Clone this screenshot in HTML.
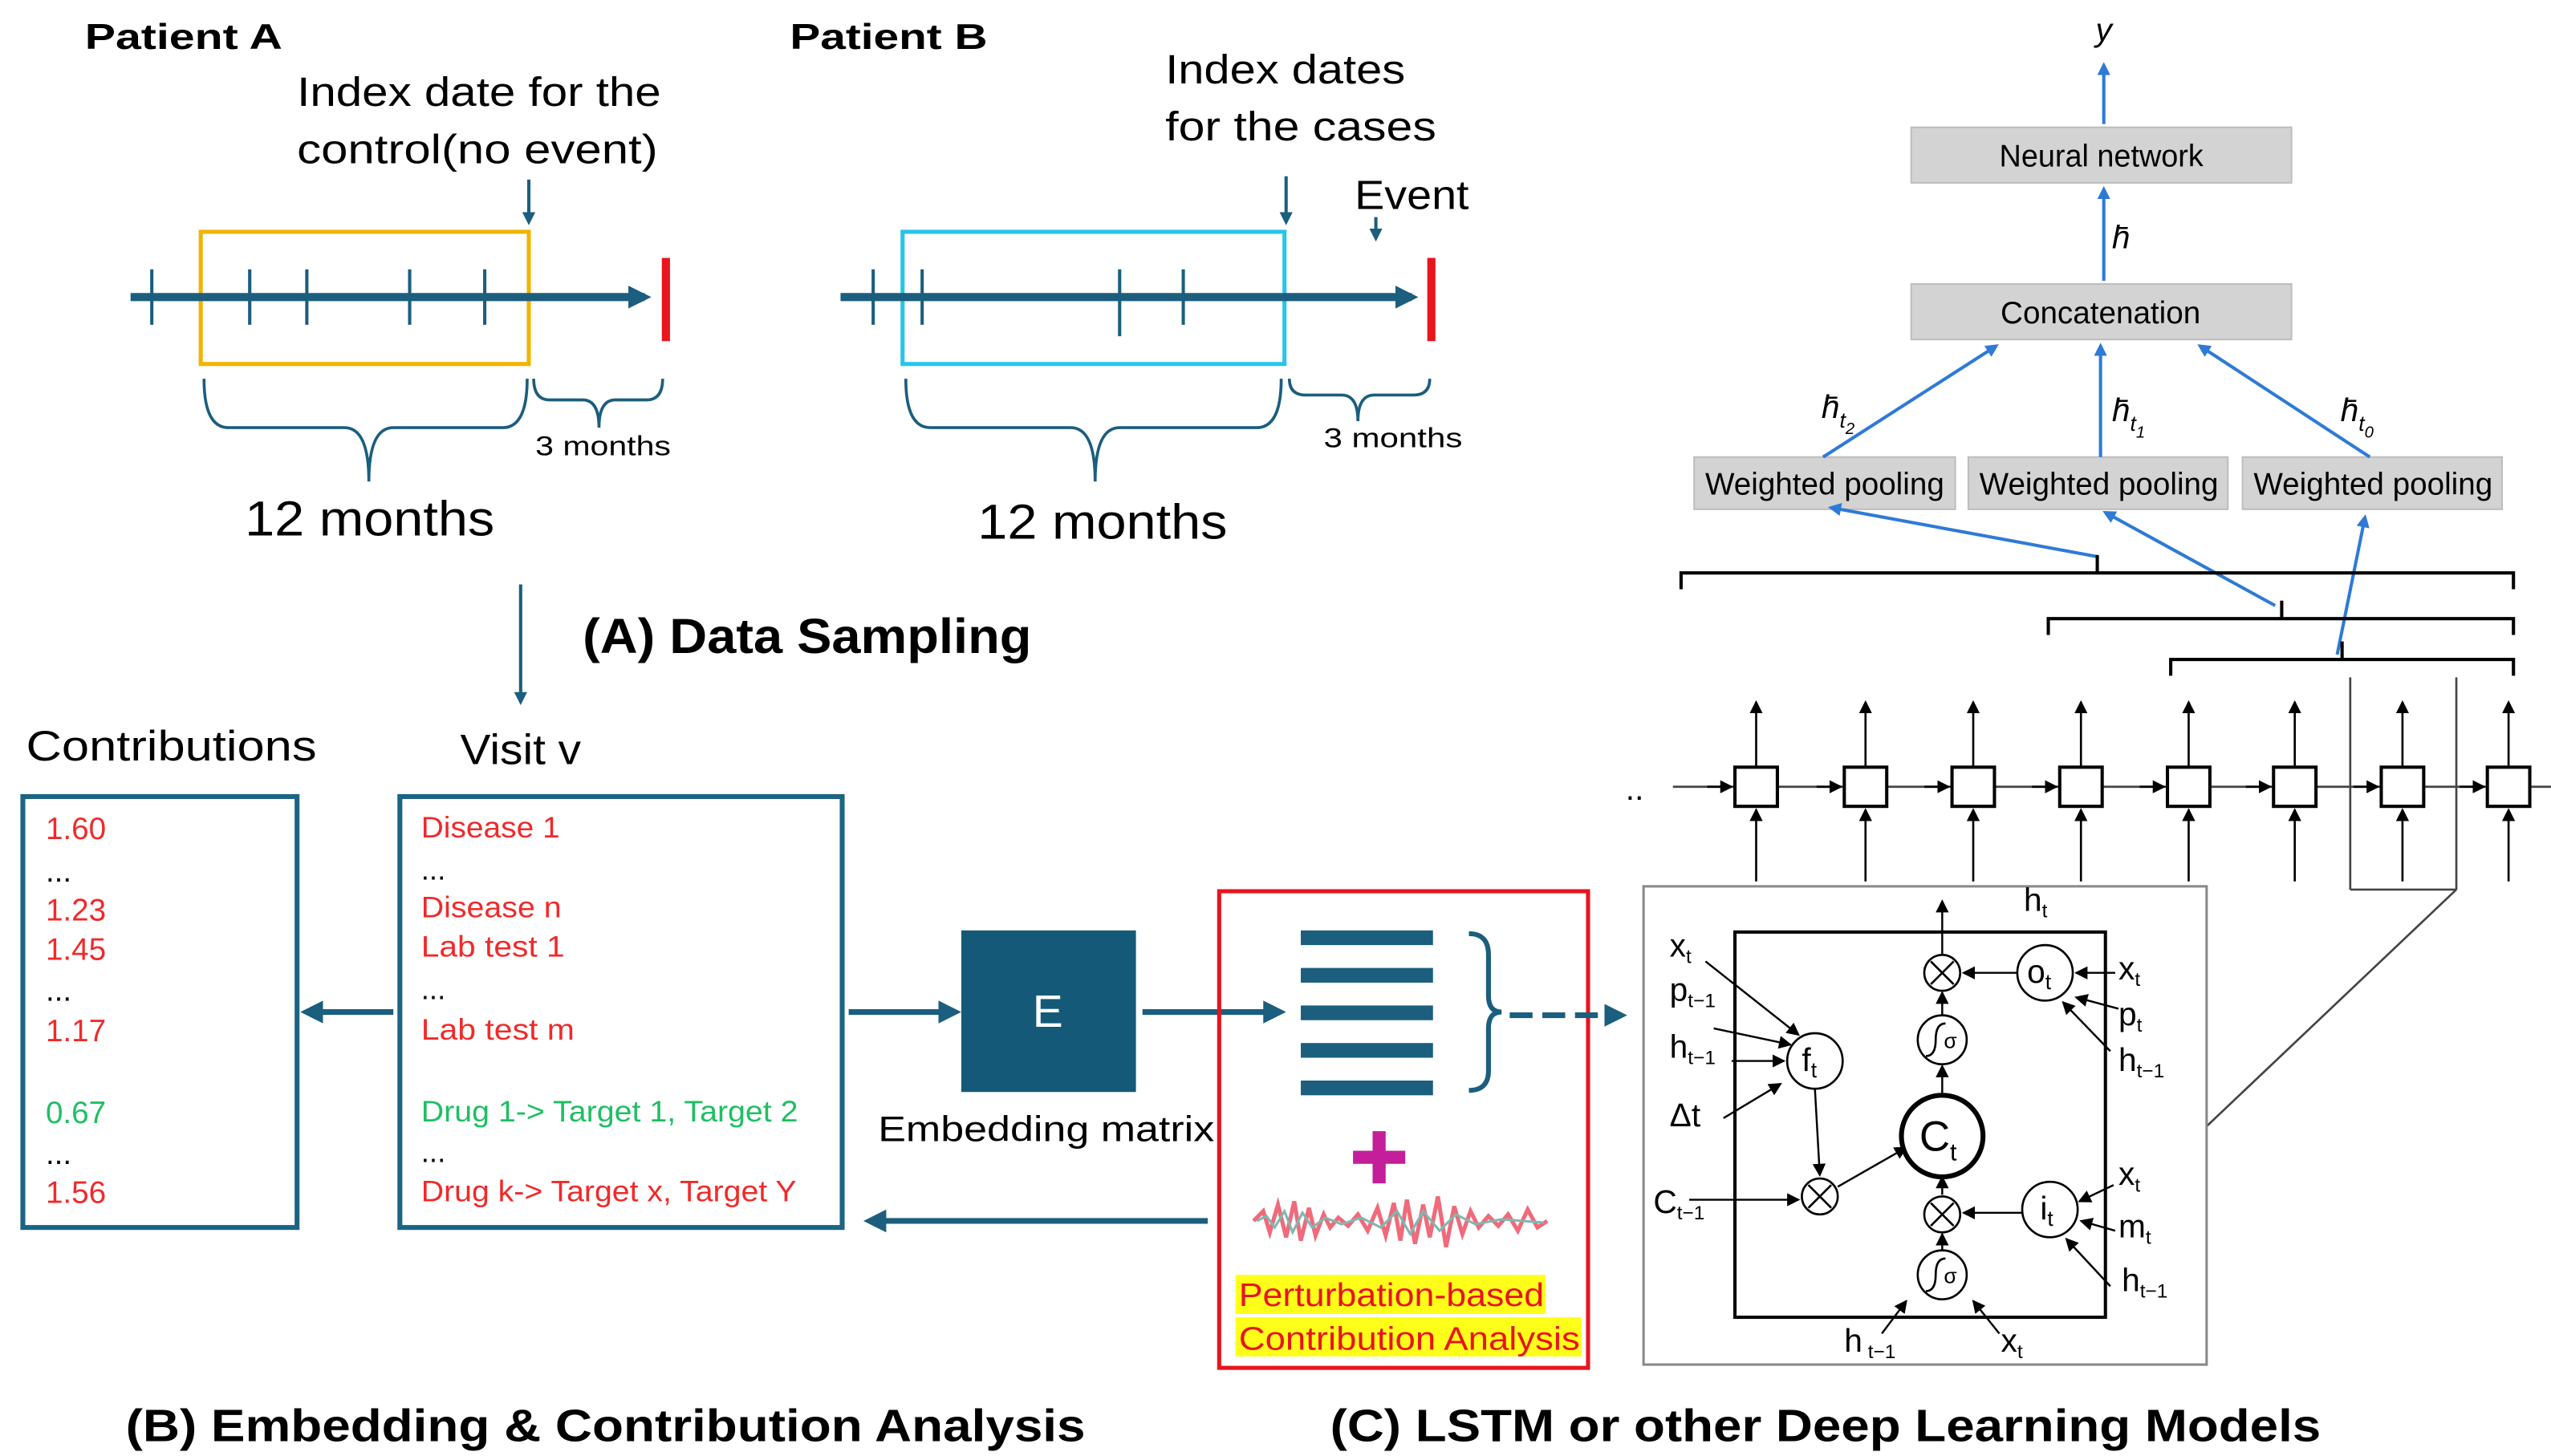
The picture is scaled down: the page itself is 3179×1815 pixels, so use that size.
<!DOCTYPE html>
<html><head><meta charset="utf-8"><style>
html,body{margin:0;padding:0;background:#fff;}
svg{display:block;}
text{font-family:"Liberation Sans",sans-serif;}
</style></head><body>
<svg width="3179" height="1815" viewBox="0 0 1563 892" preserveAspectRatio="none" xmlns="http://www.w3.org/2000/svg">
<defs>
<marker id="ab" markerWidth="8" markerHeight="8" refX="6" refY="4" orient="auto" markerUnits="userSpaceOnUse"><path d="M0,0 L8,4 L0,8z" fill="#1b5e7e"/></marker>
<marker id="abig" markerWidth="14" markerHeight="14" refX="10" refY="7" orient="auto" markerUnits="userSpaceOnUse"><path d="M0,0 L14,7 L0,14z" fill="#1b5e7e"/></marker>
<marker id="abl" markerWidth="8" markerHeight="8" refX="6" refY="4" orient="auto" markerUnits="userSpaceOnUse"><path d="M0,0 L8,4 L0,8z" fill="#2e7ad6"/></marker>
<marker id="ak" markerWidth="8" markerHeight="8" refX="7" refY="4" orient="auto" markerUnits="userSpaceOnUse"><path d="M0,0 L8,4 L0,8z" fill="#000"/></marker>
</defs>

<!-- Patient A -->
<text x="52" y="30" font-size="22" font-weight="bold" textLength="121" lengthAdjust="spacingAndGlyphs">Patient A</text>
<text x="182" y="65" font-size="25" textLength="223" lengthAdjust="spacingAndGlyphs">Index date for the</text>
<text x="182" y="100" font-size="25" textLength="221" lengthAdjust="spacingAndGlyphs">control(no event)</text>
<line x1="324" y1="110" x2="324" y2="136" stroke="#1b5e7e" stroke-width="2" marker-end="url(#ab)"/>
<rect x="123" y="142" width="201" height="81" fill="none" stroke="#f0b400" stroke-width="2.5"/>
<line x1="80" y1="182" x2="395" y2="182" stroke="#1b5e7e" stroke-width="5" marker-end="url(#abig)"/>
<g stroke="#1b5e7e" stroke-width="2"><line x1="93" y1="165" x2="93" y2="199"/><line x1="153" y1="165" x2="153" y2="199"/><line x1="188" y1="165" x2="188" y2="199"/><line x1="251" y1="165" x2="251" y2="199"/><line x1="297" y1="165" x2="297" y2="199"/></g>
<line x1="408" y1="158" x2="408" y2="209" stroke="#e8141e" stroke-width="5"/>
<g fill="none" stroke="#1b5e7e" stroke-width="1.8">
<path d="M125 232 Q125 262 140 262 L211 262 Q226 262 226 295 Q226 262 241 262 L308 262 Q323 262 323 232"/>
<path d="M327 232 Q327 245 337 245 L357 245 Q367 245 367 262 Q367 245 377 245 L396 245 Q406 245 406 232"/>
</g>
<text x="328" y="279" font-size="17" textLength="83" lengthAdjust="spacingAndGlyphs">3 months</text>
<text x="150" y="328" font-size="30" textLength="153" lengthAdjust="spacingAndGlyphs">12 months</text>

<!-- Patient B -->
<text x="484" y="30" font-size="22" font-weight="bold" textLength="121" lengthAdjust="spacingAndGlyphs">Patient B</text>
<text x="714" y="51" font-size="25" textLength="147" lengthAdjust="spacingAndGlyphs">Index dates</text>
<text x="714" y="86" font-size="25" textLength="166" lengthAdjust="spacingAndGlyphs">for the cases</text>
<text x="830" y="128" font-size="25" textLength="70" lengthAdjust="spacingAndGlyphs">Event</text>
<line x1="788" y1="108" x2="788" y2="136" stroke="#1b5e7e" stroke-width="2" marker-end="url(#ab)"/>
<line x1="843" y1="133" x2="843" y2="146" stroke="#1b5e7e" stroke-width="2" marker-end="url(#ab)"/>
<rect x="553" y="142" width="234" height="81" fill="none" stroke="#29c4e8" stroke-width="2.5"/>
<line x1="515" y1="182" x2="865" y2="182" stroke="#1b5e7e" stroke-width="5" marker-end="url(#abig)"/>
<g stroke="#1b5e7e" stroke-width="2"><line x1="535" y1="165" x2="535" y2="199"/><line x1="565" y1="165" x2="565" y2="199"/><line x1="686" y1="165" x2="686" y2="206"/><line x1="725" y1="165" x2="725" y2="199"/></g>
<line x1="877" y1="158" x2="877" y2="209" stroke="#e8141e" stroke-width="5"/>
<g fill="none" stroke="#1b5e7e" stroke-width="1.8">
<path d="M555 232 Q555 262 570 262 L656 262 Q671 262 671 295 Q671 262 686 262 L770 262 Q785 262 785 232"/>
<path d="M790 232 Q790 242 800 242 L822 242 Q832 242 832 258 Q832 242 842 242 L866 242 Q876 242 876 232"/>
</g>
<text x="811" y="274" font-size="17" textLength="85" lengthAdjust="spacingAndGlyphs">3 months</text>
<text x="599" y="330" font-size="30" textLength="153" lengthAdjust="spacingAndGlyphs">12 months</text>

<line x1="319" y1="358" x2="319" y2="430" stroke="#1b5e7e" stroke-width="2" marker-end="url(#ab)"/>
<text x="357" y="400" font-size="30" font-weight="bold" textLength="275" lengthAdjust="spacingAndGlyphs">(A) Data Sampling</text>

<!-- (B) -->
<text x="16" y="466" font-size="26" textLength="178" lengthAdjust="spacingAndGlyphs">Contributions</text>
<rect x="14" y="488" width="168" height="264" fill="none" stroke="#1b6484" stroke-width="3"/>
<g font-size="19" fill="#f02a2a">
<text x="28" y="514">1.60</text><text x="28" y="540" fill="#000">...</text><text x="28" y="564">1.23</text><text x="28" y="588">1.45</text><text x="28" y="613" fill="#000">...</text><text x="28" y="638">1.17</text><text x="28" y="688" fill="#1fbf63">0.67</text><text x="28" y="713" fill="#000">...</text><text x="28" y="737">1.56</text>
</g>
<text x="282" y="468" font-size="26" textLength="74" lengthAdjust="spacingAndGlyphs">Visit v</text>
<rect x="245" y="488" width="271" height="264" fill="none" stroke="#1b6484" stroke-width="3"/>
<g font-size="18" fill="#f02a2a">
<text x="258" y="513" textLength="85" lengthAdjust="spacingAndGlyphs">Disease 1</text><text x="258" y="539" fill="#000">...</text><text x="258" y="562" textLength="86" lengthAdjust="spacingAndGlyphs">Disease n</text><text x="258" y="586" textLength="88" lengthAdjust="spacingAndGlyphs">Lab test 1</text><text x="258" y="612" fill="#000">...</text><text x="258" y="637" textLength="94" lengthAdjust="spacingAndGlyphs">Lab test m</text><text x="258" y="687" fill="#1fbf63" textLength="231" lengthAdjust="spacingAndGlyphs">Drug 1-&gt; Target 1, Target 2</text><text x="258" y="712" fill="#000">...</text><text x="258" y="736" textLength="230" lengthAdjust="spacingAndGlyphs">Drug k-&gt; Target x, Target Y</text>
</g>
<line x1="241" y1="620" x2="188" y2="620" stroke="#1b5e7e" stroke-width="3.5" marker-end="url(#abig)"/>
<line x1="520" y1="620" x2="585" y2="620" stroke="#1b5e7e" stroke-width="3.5" marker-end="url(#abig)"/>
<rect x="589" y="570" width="107" height="99" fill="#145a78"/>
<text x="642" y="629" font-size="28" fill="#fff" text-anchor="middle">E</text>
<text x="538" y="699" font-size="22" textLength="206" lengthAdjust="spacingAndGlyphs">Embedding matrix</text>
<line x1="700" y1="620" x2="784" y2="620" stroke="#1b5e7e" stroke-width="3.5" marker-end="url(#abig)"/>
<rect x="747" y="546" width="226" height="292" fill="none" stroke="#e8141e" stroke-width="2.5"/>
<g fill="#1b5e7e"><rect x="797" y="570" width="81" height="9"/><rect x="797" y="593" width="81" height="9"/><rect x="797" y="616" width="81" height="9"/><rect x="797" y="639" width="81" height="9"/><rect x="797" y="662" width="81" height="9"/></g>
<path d="M900 572 Q912 572 912 585 L912 610 Q912 620 920 620 Q912 620 912 630 L912 656 Q912 668 900 668" fill="none" stroke="#1b5e7e" stroke-width="3"/>
<line x1="925" y1="622" x2="993" y2="622" stroke="#1b5e7e" stroke-width="3.5" stroke-dasharray="14,6" marker-end="url(#abig)"/>
<g fill="#c41e9a"><rect x="841" y="693" width="8" height="32"/><rect x="829" y="705" width="32" height="8"/></g>
<path d="M768 748 L774 742 L778 755 L783 738 L788 758 L793 736 L797 760 L802 740 L806 757 L811 744 L815 752 L820 746 L826 751 L832 744 L838 754 L844 740 L849 757 L854 737 L858 760 L862 735 L867 762 L872 738 L876 758 L881 733 L886 764 L891 739 L896 756 L901 742 L906 752 L912 745 L918 751 L924 744 L930 754 L936 741 L942 752 L948 748" fill="none" stroke="#f06a7a" stroke-width="2.5"/>
<path d="M770 748 L776 745 L781 752 L787 742 L792 755 L798 743 L804 752 L812 746 L822 750 L834 746 L846 752 L856 742 L864 756 L872 742 L882 754 L892 744 L904 750 L920 747 L946 749" fill="none" stroke="#7fb8b0" stroke-width="1.5"/>
<rect x="757" y="781" width="190" height="24" fill="#ffff1a"/>
<rect x="757" y="807" width="212" height="24" fill="#ffff1a"/>
<text x="759" y="800" font-size="20" fill="#e8141e" textLength="187" lengthAdjust="spacingAndGlyphs">Perturbation-based</text>
<text x="759" y="827" font-size="20" fill="#e8141e" textLength="209" lengthAdjust="spacingAndGlyphs">Contribution Analysis</text>
<line x1="740" y1="748" x2="533" y2="748" stroke="#1b5e7e" stroke-width="3.5" marker-end="url(#abig)"/>
<text x="77" y="883" font-size="28" font-weight="bold" textLength="588" lengthAdjust="spacingAndGlyphs">(B) Embedding &amp; Contribution Analysis</text>
<text x="815" y="883" font-size="28" font-weight="bold" textLength="607" lengthAdjust="spacingAndGlyphs">(C) LSTM or other Deep Learning Models</text>

<!-- Right top -->
<text x="1289" y="25" font-size="20" font-style="italic" font-family="Liberation Serif" text-anchor="middle">y</text>
<line x1="1289" y1="76" x2="1289" y2="40" stroke="#2e7ad6" stroke-width="2" marker-end="url(#abl)"/>
<rect x="1171" y="78" width="233" height="34" fill="#d3d3d3" stroke="#bdbdbd"/>
<text x="1225" y="102" font-size="19" textLength="125" lengthAdjust="spacingAndGlyphs">Neural network</text>
<line x1="1289" y1="172" x2="1289" y2="116" stroke="#2e7ad6" stroke-width="2" marker-end="url(#abl)"/>
<text x="1294" y="152" font-size="20" font-style="italic" font-family="Liberation Serif">h̄</text>
<rect x="1171" y="174" width="233" height="34" fill="#d3d3d3" stroke="#bdbdbd"/>
<text x="1287" y="198" font-size="19" text-anchor="middle">Concatenation</text>
<g fill="#d3d3d3" stroke="#bdbdbd"><rect x="1038" y="280" width="160" height="32"/><rect x="1206" y="280" width="159" height="32"/><rect x="1374" y="280" width="159" height="32"/></g>
<g font-size="19" text-anchor="middle"><text x="1118" y="303">Weighted pooling</text><text x="1286" y="303">Weighted pooling</text><text x="1454" y="303">Weighted pooling</text></g>
<g stroke="#2e7ad6" stroke-width="2" marker-end="url(#abl)">
<line x1="1117" y1="280" x2="1223" y2="212"/>
<line x1="1287" y1="280" x2="1287" y2="212"/>
<line x1="1452" y1="280" x2="1348" y2="212"/>
<line x1="1285" y1="341" x2="1122" y2="311"/>
<line x1="1394" y1="371" x2="1290" y2="314"/>
<line x1="1432" y1="401" x2="1449" y2="317"/>
</g>
<g font-size="20" font-style="italic" font-family="Liberation Serif">
<text x="1116" y="256">h̄<tspan font-size="13" dy="6">t</tspan><tspan font-size="10" dy="4">2</tspan></text>
<text x="1294" y="258">h̄<tspan font-size="13" dy="6">t</tspan><tspan font-size="10" dy="4">1</tspan></text>
<text x="1434" y="258">h̄<tspan font-size="13" dy="6">t</tspan><tspan font-size="10" dy="4">0</tspan></text>
</g>
<g fill="none" stroke="#000" stroke-width="2">
<path d="M1030 361 L1030 351 L1540 351 L1540 361 M1285 351 L1285 340"/>
<path d="M1255 389 L1255 379 L1540 379 L1540 389 M1398 379 L1398 368"/>
<path d="M1330 414 L1330 404 L1540 404 L1540 414 M1435 404 L1435 393"/>
</g>
<!-- cells -->
<g stroke="#444" stroke-width="1.3">
<line x1="1440" y1="415" x2="1440" y2="545"/><line x1="1505" y1="415" x2="1505" y2="545"/><line x1="1440" y1="545" x2="1505" y2="545"/><line x1="1505" y1="545" x2="1352" y2="690"/>
</g>
<text x="996" y="490" font-size="20">..</text>
<line x1="1025" y1="482" x2="1563" y2="482" stroke="#444" stroke-width="1.3"/>
<g id="cells" stroke="#000" stroke-width="1.3">
<g transform="translate(1076,0)"><rect x="-13" y="470" width="26" height="24" fill="#fff" stroke-width="2"/><line x1="0" y1="470" x2="0" y2="430" marker-end="url(#ak)"/><line x1="0" y1="540" x2="0" y2="496" marker-end="url(#ak)"/><line x1="-30" y1="482" x2="-15" y2="482" marker-end="url(#ak)"/></g>
<g transform="translate(1143,0)"><rect x="-13" y="470" width="26" height="24" fill="#fff" stroke-width="2"/><line x1="0" y1="470" x2="0" y2="430" marker-end="url(#ak)"/><line x1="0" y1="540" x2="0" y2="496" marker-end="url(#ak)"/><line x1="-30" y1="482" x2="-15" y2="482" marker-end="url(#ak)"/></g>
<g transform="translate(1209,0)"><rect x="-13" y="470" width="26" height="24" fill="#fff" stroke-width="2"/><line x1="0" y1="470" x2="0" y2="430" marker-end="url(#ak)"/><line x1="0" y1="540" x2="0" y2="496" marker-end="url(#ak)"/><line x1="-30" y1="482" x2="-15" y2="482" marker-end="url(#ak)"/></g>
<g transform="translate(1275,0)"><rect x="-13" y="470" width="26" height="24" fill="#fff" stroke-width="2"/><line x1="0" y1="470" x2="0" y2="430" marker-end="url(#ak)"/><line x1="0" y1="540" x2="0" y2="496" marker-end="url(#ak)"/><line x1="-30" y1="482" x2="-15" y2="482" marker-end="url(#ak)"/></g>
<g transform="translate(1341,0)"><rect x="-13" y="470" width="26" height="24" fill="#fff" stroke-width="2"/><line x1="0" y1="470" x2="0" y2="430" marker-end="url(#ak)"/><line x1="0" y1="540" x2="0" y2="496" marker-end="url(#ak)"/><line x1="-30" y1="482" x2="-15" y2="482" marker-end="url(#ak)"/></g>
<g transform="translate(1406,0)"><rect x="-13" y="470" width="26" height="24" fill="#fff" stroke-width="2"/><line x1="0" y1="470" x2="0" y2="430" marker-end="url(#ak)"/><line x1="0" y1="540" x2="0" y2="496" marker-end="url(#ak)"/><line x1="-30" y1="482" x2="-15" y2="482" marker-end="url(#ak)"/></g>
<g transform="translate(1472,0)"><rect x="-13" y="470" width="26" height="24" fill="#fff" stroke-width="2"/><line x1="0" y1="470" x2="0" y2="430" marker-end="url(#ak)"/><line x1="0" y1="540" x2="0" y2="496" marker-end="url(#ak)"/><line x1="-30" y1="482" x2="-15" y2="482" marker-end="url(#ak)"/></g>
<g transform="translate(1537,0)"><rect x="-13" y="470" width="26" height="24" fill="#fff" stroke-width="2"/><line x1="0" y1="470" x2="0" y2="430" marker-end="url(#ak)"/><line x1="0" y1="540" x2="0" y2="496" marker-end="url(#ak)"/><line x1="-30" y1="482" x2="-15" y2="482" marker-end="url(#ak)"/></g>
</g>

<!-- LSTM cell -->
<rect x="1007" y="543" width="345" height="293" fill="#fff" stroke="#888" stroke-width="1.5"/>
<rect x="1063" y="571" width="227" height="236" fill="none" stroke="#000" stroke-width="2"/>
<g stroke="#000" stroke-width="1.2" fill="none">
<line x1="1190" y1="585" x2="1190" y2="552" marker-end="url(#ak)"/>
<line x1="1236" y1="596" x2="1203" y2="596" marker-end="url(#ak)"/>
<line x1="1190" y1="622" x2="1190" y2="608" marker-end="url(#ak)"/>
<line x1="1190" y1="672" x2="1190" y2="653" marker-end="url(#ak)"/>
<line x1="1112" y1="667" x2="1115" y2="720" marker-end="url(#ak)"/>
<line x1="1126" y1="727" x2="1168" y2="703" marker-end="url(#ak)"/>
<line x1="1190" y1="732" x2="1190" y2="721" marker-end="url(#ak)"/>
<line x1="1239" y1="743" x2="1203" y2="743" marker-end="url(#ak)"/>
<line x1="1190" y1="766" x2="1190" y2="756" marker-end="url(#ak)"/>
<line x1="1035" y1="735" x2="1102" y2="735" marker-end="url(#ak)"/>
<line x1="1045" y1="589" x2="1102" y2="634" marker-end="url(#ak)"/>
<line x1="1050" y1="630" x2="1097" y2="640" marker-end="url(#ak)"/>
<line x1="1061" y1="650" x2="1093" y2="650" marker-end="url(#ak)"/>
<line x1="1056" y1="685" x2="1091" y2="664" marker-end="url(#ak)"/>
<line x1="1296" y1="596" x2="1272" y2="596" marker-end="url(#ak)"/>
<line x1="1298" y1="618" x2="1272" y2="611" marker-end="url(#ak)"/>
<line x1="1293" y1="644" x2="1264" y2="614" marker-end="url(#ak)"/>
<line x1="1295" y1="726" x2="1274" y2="736" marker-end="url(#ak)"/>
<line x1="1296" y1="754" x2="1275" y2="748" marker-end="url(#ak)"/>
<line x1="1293" y1="788" x2="1266" y2="759" marker-end="url(#ak)"/>
<line x1="1153" y1="817" x2="1168" y2="797" marker-end="url(#ak)"/>
<line x1="1225" y1="817" x2="1209" y2="797" marker-end="url(#ak)"/>
</g>
<g fill="#fff" stroke="#000" stroke-width="1.3">
<circle cx="1190" cy="596" r="11"/><circle cx="1253" cy="596" r="17"/><circle cx="1190" cy="637" r="15"/><circle cx="1112" cy="650" r="17"/><circle cx="1190" cy="696" r="25" stroke-width="3"/><circle cx="1115" cy="733" r="11"/><circle cx="1190" cy="744" r="11"/><circle cx="1256" cy="741" r="17"/><circle cx="1190" cy="781" r="15"/>
</g>
<g stroke="#000" stroke-width="1.3">
<path d="M1183 589 L1197 603 M1197 589 L1183 603"/><path d="M1108 726 L1122 740 M1122 726 L1108 740"/><path d="M1183 737 L1197 751 M1197 737 L1183 751"/>
<path d="M1180 647 Q1186 647 1186 637 Q1186 627 1192 627" fill="none"/><path d="M1180 791 Q1186 791 1186 781 Q1186 771 1192 771" fill="none"/>
</g>
<g font-size="13"><text x="1191" y="642">σ</text><text x="1191" y="786">σ</text></g>
<g font-size="20">
<text x="1242" y="602">o<tspan font-size="13" dy="4">t</tspan></text>
<text x="1104" y="656">f<tspan font-size="13" dy="4">t</tspan></text>
<text x="1176" y="705" font-size="26">C<tspan font-size="15" dy="6">t</tspan></text>
<text x="1250" y="747">i<tspan font-size="13" dy="4">t</tspan></text>
<text x="1240" y="558">h<tspan font-size="12" dy="4">t</tspan></text>
<text x="1023" y="586">x<tspan font-size="12" dy="4">t</tspan></text>
<text x="1023" y="613">p<tspan font-size="12" dy="4">t−1</tspan></text>
<text x="1023" y="648">h<tspan font-size="12" dy="4">t−1</tspan></text>
<text x="1023" y="690">Δt</text>
<text x="1013" y="743">C<tspan font-size="12" dy="4">t−1</tspan></text>
<text x="1298" y="600">x<tspan font-size="12" dy="4">t</tspan></text>
<text x="1298" y="628">p<tspan font-size="12" dy="4">t</tspan></text>
<text x="1298" y="656">h<tspan font-size="12" dy="4">t−1</tspan></text>
<text x="1298" y="726">x<tspan font-size="12" dy="4">t</tspan></text>
<text x="1298" y="758">m<tspan font-size="12" dy="4">t</tspan></text>
<text x="1300" y="791">h<tspan font-size="12" dy="4">t−1</tspan></text>
<text x="1130" y="828">h<tspan font-size="12" dy="4"> t−1</tspan></text>
<text x="1226" y="828">x<tspan font-size="12" dy="4">t</tspan></text>
</g>
</svg>
</body></html>
